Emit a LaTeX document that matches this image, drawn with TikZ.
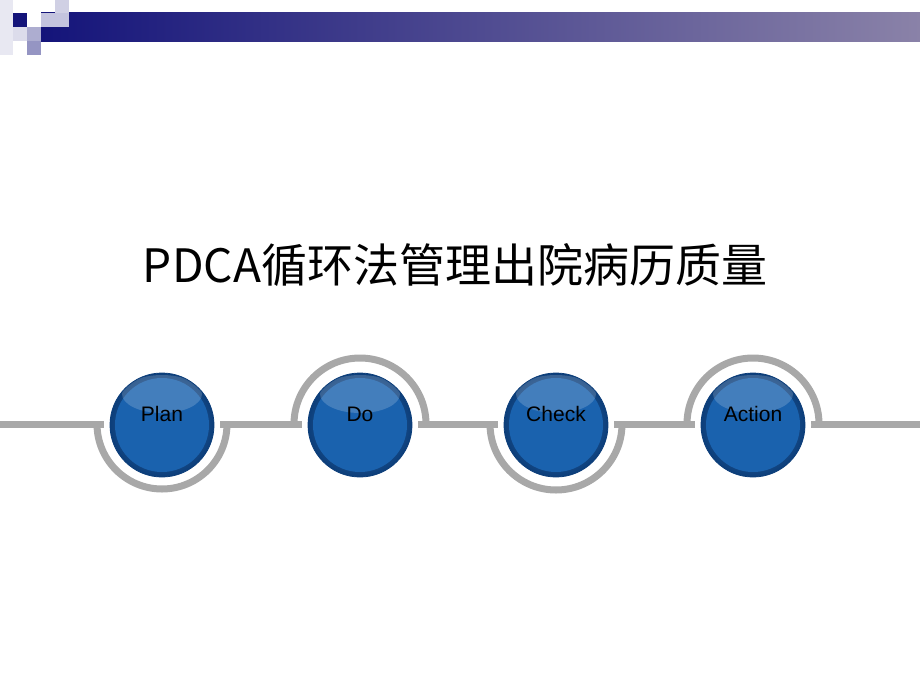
\documentclass[tikz,border=0pt]{standalone}
\usepackage{fontspec}
\setmainfont{Liberation Sans}
\newfontfamily\cjk{Noto Sans CJK SC}
\definecolor{navy}{HTML}{14147A}
\definecolor{bargray}{HTML}{8A82A8}
\definecolor{ringgray}{HTML}{A8A8A8}
\definecolor{ballblue}{HTML}{1A62AE}
\definecolor{balledge}{HTML}{0C3E7A}
\tikzset{
  ring/.style={draw=ringgray,line width=7pt},
  lbl/.style={font=\fontsize{21}{21}\selectfont,text=black}
}
\begin{document}
\begin{tikzpicture}[x=1pt,y=-1pt]
\useasboundingbox (0,0) rectangle (920,690);
% header
\shade[left color=navy,right color=bargray] (41,13) rectangle (920,42);
\fill[navy!10] (0,0) rectangle (13,55);
\fill[navy!15] (13,27) rectangle (27,41);
\fill[navy] (13,13) rectangle (27,27);
\fill[navy!20] (55,0) rectangle (69,27);
\fill[navy!25] (41,13) rectangle (69,27);
\fill[navy!35] (27,27) rectangle (41,41);
\fill[navy!45] (27,41) rectangle (41,55);
% line
\draw[ringgray,line width=7pt] (0,424) -- (920,424);
% rings
\draw[ring] (97,424) arc[start angle=180,end angle=0,radius=65];
\draw[ring] (294,424) arc[start angle=180,end angle=360,radius=66];
\draw[ring] (490,424) arc[start angle=180,end angle=0,radius=66];
\draw[ring] (687,424) arc[start angle=180,end angle=360,radius=66];
% balls
\foreach \n/\x/\t in {plan/162/Plan,do/360/Do,check/556/Check,action/753/Action}{
  \fill[white] (\x,425) circle[radius=58];
  \shade[inner color=ballblue!85!white,outer color=balledge] (\x,425) circle[radius=52];
  \fill[ballblue] (\x,425) circle[radius=47];
  \fill[white,opacity=0.18] (\x,394) ellipse[x radius=40,y radius=19];
  \draw[balledge,line width=0.8pt] (\x,425) circle[radius=52];
  \node[lbl] (\n) at (\x,414) {\t};
}
% title
\node[font=\cjk\fontsize{46}{46}\selectfont] (title) at (455,265) {PDCA循环法管理出院病历质量};
\end{tikzpicture}
\end{document}
